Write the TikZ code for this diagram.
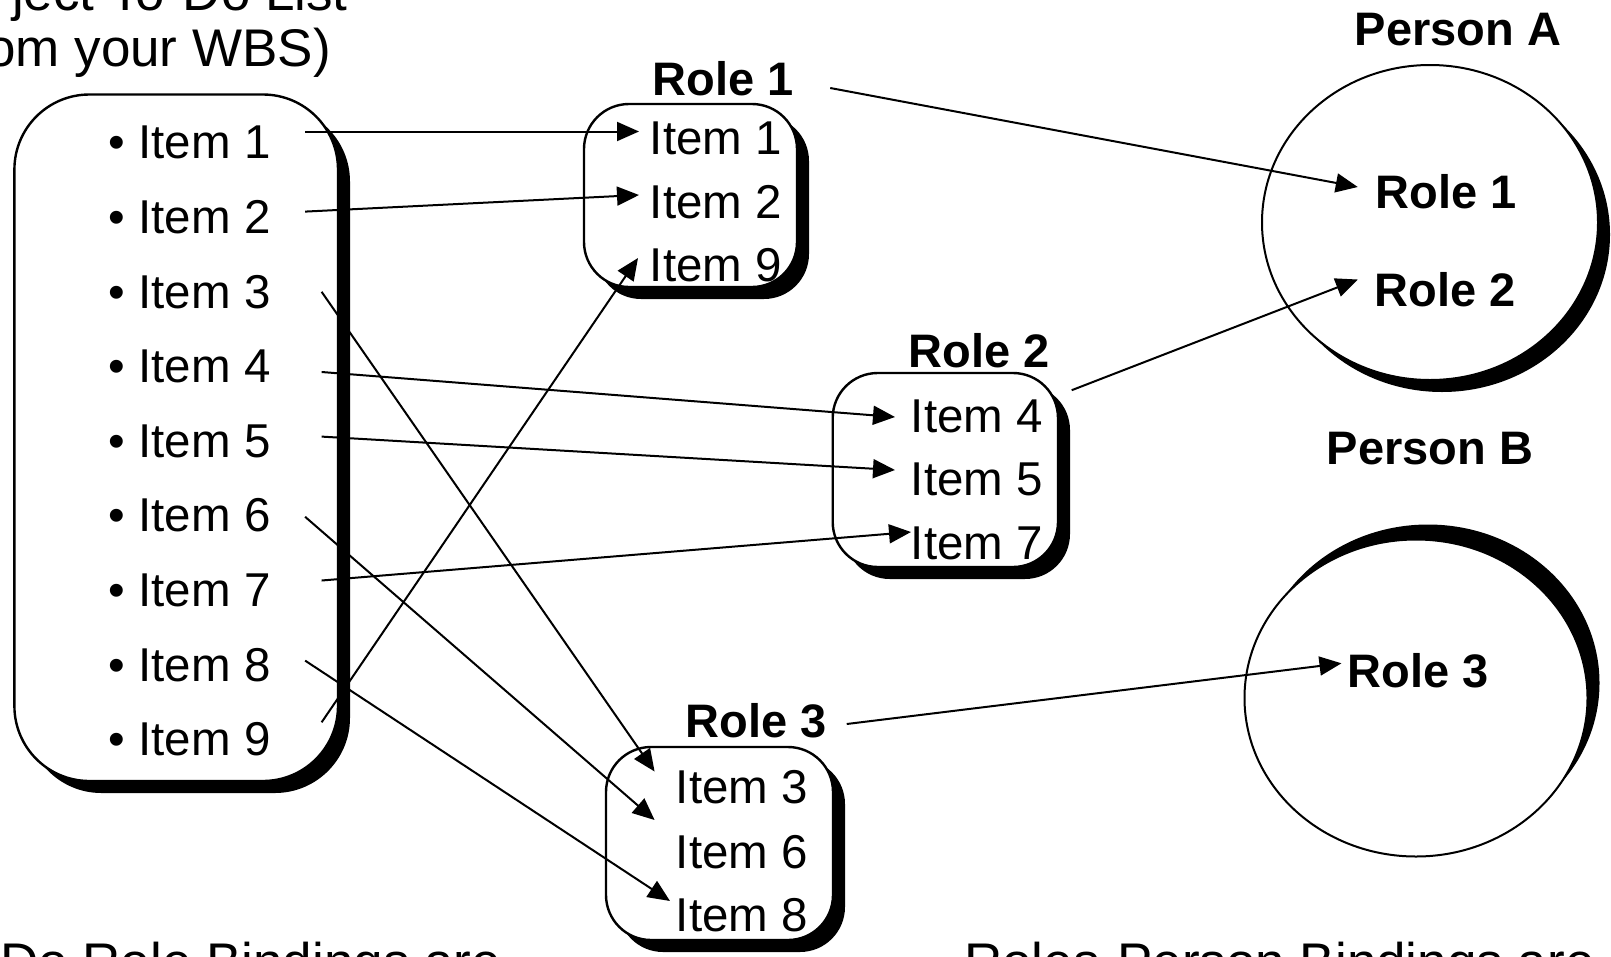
\documentclass[tikz,border=0pt]{standalone}
\usepackage{fontspec}
\setmainfont{Liberation Sans}
\usetikzlibrary{arrows.meta,shapes.geometric,shadows}

\begin{document}
\begin{tikzpicture}[x=1pt,y=-1pt,
  txt/.style={inner sep=0pt, font=\fontsize{47.5}{57}\selectfont, text height=34pt, text depth=0pt},
  bold/.style={txt, font=\fontsize{47}{56}\selectfont\bfseries},
  big/.style={inner sep=0pt, font=\fontsize{53}{64}\selectfont},
  itembox/.style={draw, line width=2.4pt, fill=white, rounded corners=#1,
    drop shadow={shadow xshift=12pt, shadow yshift=-12pt, fill=black, opacity=1}},
  person/.style={draw, ellipse, line width=2pt, fill=white, inner sep=0pt},
  arr/.style={line width=2pt, -{Triangle[length=22pt,width=19pt]}},
]
\useasboundingbox (0,0) rectangle (1611,956);

% the to-do list
\node[itembox=75pt, minimum width=323.6pt, minimum height=686.5pt] (lbox) at (176.2,437.75) {};
\foreach \k/\y in {1/141.8,2/216.4,3/291.0,4/365.6,5/440.2,6/514.8,7/589.4,8/664.0,9/738.6}
  \node[txt, anchor=west] (li\k) at (108.5,\y) {\textbullet\ Item \k};

\node[big, anchor=base east] (title1) at (348,10) {ject To-Do List};
\node[big, anchor=base east] (title2) at (331,66) {om your WBS)};

% role boxes
\node[itembox=45pt, minimum width=213pt, minimum height=183pt] (r1box) at (690.5,195.5) {};
\node[itembox=45pt, minimum width=225.3pt, minimum height=194pt] (r2box) at (945.35,470) {};
\node[itembox=45pt, minimum width=227pt, minimum height=193pt] (r3box) at (719.5,843.5) {};

\node[bold] (rl1) at (723,78) {Role 1};
\node[bold] (rl2) at (979,350) {Role 2};
\node[bold] (rl3) at (756,720) {Role 3};

\node[txt, anchor=west] (r1a) at (649.6,137.5) {Item 1};
\node[txt, anchor=west] (r1b) at (649.6,201) {Item 2};
\node[txt, anchor=west] (r1c) at (649.6,264.5) {Item 9};
\node[txt, anchor=west] (r2a) at (910.6,415) {Item 4};
\node[txt, anchor=west] (r2b) at (910.6,478.5) {Item 5};
\node[txt, anchor=west] (r2c) at (910.6,542) {Item 7};
\node[txt, anchor=west] (r3a) at (675.6,786.5) {Item 3};
\node[txt, anchor=west] (r3b) at (675.6,851) {Item 6};
\node[txt, anchor=west] (r3c) at (675.6,914) {Item 8};

% people
\node[person, minimum width=336pt, minimum height=315pt,
  drop shadow={shadow xshift=12pt, shadow yshift=-12pt, fill=black, opacity=1}] (pA) at (1430,222.5) {};
\node[person, minimum width=343pt, minimum height=317pt,
  drop shadow={shadow xshift=12pt, shadow yshift=15pt, fill=black, opacity=1}] (pB) at (1416,698) {};
\node[bold] (pAname) at (1458,28.2) {Person A};
\node[bold] (pBname) at (1430,447.6) {Person B};
\node[bold] (pa1) at (1446,191) {Role 1};
\node[bold] (pa2) at (1445,289) {Role 2};
\node[bold] (pb3) at (1418,670) {Role 3};

\node[big, anchor=base west] (note1) at (0,980) {Do Role Bindings are};
\node[big, anchor=base west] (note2) at (964,980) {Roles-Person Bindings are};

% item-to-role bindings
\draw[arr] ([shift={(34.4,-10.3)}]li1.east) -- ([shift={(-10.6,-6)}]r1a.west);
\draw[arr] ([shift={(34.4,-4.8)}]li2.east) -- ([shift={(-10.6,-6)}]r1b.west);
\draw[arr] ([shift={(50.9,0.8)}]li3.east) -- ([shift={(-21,-15)}]r3a.west);
\draw[arr] ([shift={(50.9,6.4)}]li4.east) -- ([shift={(-15.6,2)}]r2a.west);
\draw[arr] ([shift={(50.9,-3.6)}]li5.east) -- ([shift={(-15.6,-8.5)}]r2b.west);
\draw[arr] ([shift={(34.4,2)}]li6.east) -- ([shift={(-21,-31)}]r3b.west);
\draw[arr] ([shift={(50.9,-8.9)}]li7.east) -- ([shift={(0.4,-10)}]r2c.west);
\draw[arr] ([shift={(34.4,-3.4)}]li8.east) -- ([shift={(-5.6,-13)}]r3c.west);
\draw[arr] ([shift={(50.9,-16.3)}]li9.east) -- ([shift={(-11.6,-6.5)}]r1c.west);

% role-to-person bindings
\draw[arr] ([shift={(36.5,10)}]rl1.east) -- ([shift={(-17.5,-4)}]pa1.west);
\draw[arr] ([shift={(12.5,18.4)}]r2box.north east) -- ([shift={(-16.5,-9.5)}]pa2.west);
\draw[arr] ([shift={(20,4)}]rl3.east) -- ([shift={(-5.8,-6.7)}]pb3.west);
\end{tikzpicture}
\end{document}
